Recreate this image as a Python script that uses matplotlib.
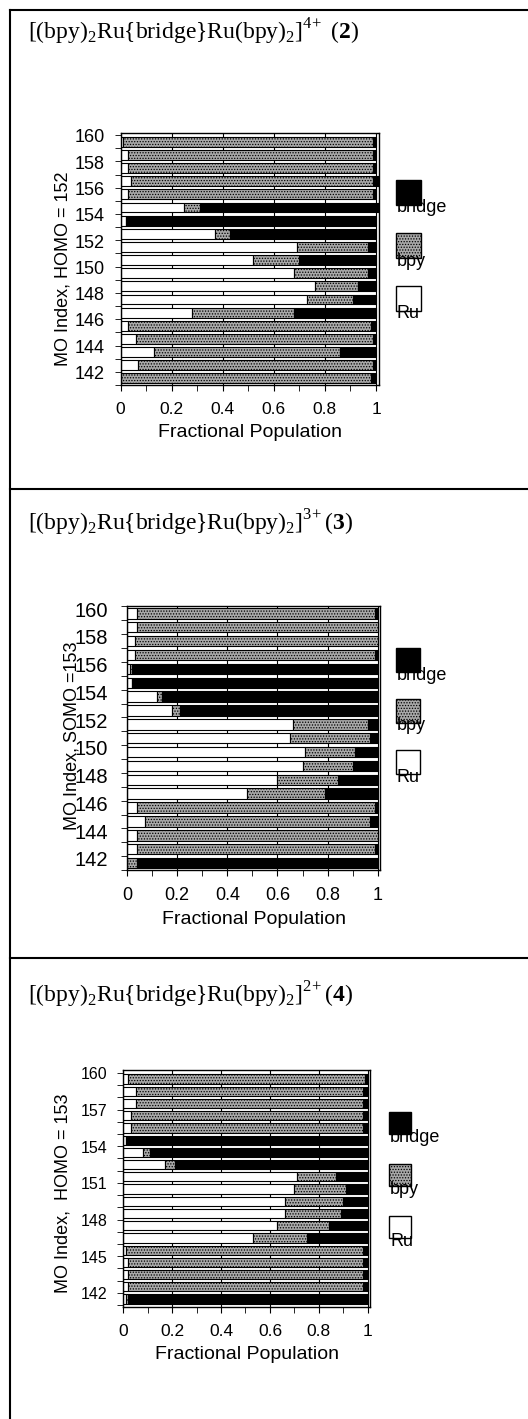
import numpy as np
import matplotlib
matplotlib.use('Agg')
import matplotlib.pyplot as plt
from matplotlib.patches import Rectangle
from matplotlib.lines import Line2D

plt.rcParams['font.family'] = ['Liberation Sans', 'DejaVu Sans']
plt.rcParams['mathtext.fontset'] = 'custom'
plt.rcParams['mathtext.rm'] = 'Liberation Serif'
plt.rcParams['mathtext.bf'] = 'Liberation Serif:bold'
plt.rcParams['hatch.linewidth'] = 0.6

# MO index 142 .. 160
mo = np.arange(142, 161)

# compuesto 2 (4+)
ru_2 = [0.00, 0.07, 0.13, 0.06, 0.03, 0.28, 0.73, 0.76, 0.68, 0.52,
        0.69, 0.37, 0.02, 0.25, 0.03, 0.04, 0.03, 0.03, 0.01]
bpy_2 = [0.98, 0.92, 0.73, 0.93, 0.95, 0.40, 0.18, 0.17, 0.29, 0.18,
         0.28, 0.06, 0.00, 0.06, 0.96, 0.95, 0.96, 0.96, 0.98]
bridge_2 = [0.02, 0.01, 0.14, 0.01, 0.02, 0.32, 0.09, 0.07, 0.03, 0.30,
            0.03, 0.57, 0.98, 0.70, 0.01, 0.02, 0.01, 0.01, 0.01]

# compuesto 3 (3+)
ru_3 = [0.00, 0.04, 0.04, 0.07, 0.04, 0.48, 0.60, 0.70, 0.71, 0.65,
        0.66, 0.18, 0.12, 0.02, 0.01, 0.03, 0.03, 0.04, 0.04]
bpy_3 = [0.04, 0.95, 0.96, 0.90, 0.95, 0.31, 0.24, 0.20, 0.20, 0.32,
         0.30, 0.03, 0.02, 0.00, 0.01, 0.96, 0.97, 0.96, 0.95]
bridge_3 = [0.96, 0.01, 0.00, 0.03, 0.01, 0.21, 0.16, 0.10, 0.09, 0.03,
            0.04, 0.79, 0.86, 0.98, 0.98, 0.01, 0.00, 0.00, 0.01]

# compuesto 4 (2+)
ru_4 = [0.01, 0.02, 0.02, 0.02, 0.01, 0.53, 0.63, 0.66, 0.66, 0.70,
        0.71, 0.17, 0.08, 0.01, 0.03, 0.03, 0.05, 0.05, 0.02]
bpy_4 = [0.01, 0.96, 0.96, 0.96, 0.97, 0.22, 0.21, 0.23, 0.24, 0.21,
         0.16, 0.04, 0.03, 0.00, 0.95, 0.95, 0.93, 0.93, 0.97]
bridge_4 = [0.98, 0.02, 0.02, 0.02, 0.02, 0.25, 0.16, 0.11, 0.10, 0.09,
            0.13, 0.79, 0.89, 0.99, 0.02, 0.02, 0.02, 0.02, 0.01]

titulos = [r'[(bpy)$_2$Ru{bridge}Ru(bpy)$_2$]$^{4\!+}$ ($\mathbf{2}$)',
           r'[(bpy)$_2$Ru{bridge}Ru(bpy)$_2$]$^{3\!+}$($\mathbf{3}$)',
           r'[(bpy)$_2$Ru{bridge}Ru(bpy)$_2$]$^{2\!+}$($\mathbf{4}$)']
ylabels = ['MO Index, HOMO = 152', 'MO Index, SOMO =153', 'MO Index,  HOMO = 153']
leyenda = ['bridge', 'bpy', 'Ru']

W, H = 528, 1419
fig = plt.figure(figsize=(W / 100, H / 100), dpi=100)

gris = '#a8a8a8'


def panel(ru, bpy, bridge, caja, ylim, paso, offset, fs_y, fs_x, pad_y, leg):
    # caja = (izq, x=1, arriba, abajo) en pixeles
    x0, x1, top, bot = caja
    ancho = (x1 - x0) * 1.01
    ax = fig.add_axes([x0 / W, 1 - bot / H, ancho / W, (bot - top) / H])
    left2 = np.add(ru, bpy)
    ax.barh(mo, ru, height=0.75, color='white', edgecolor='black', lw=0.8, zorder=2)
    ax.barh(mo, bpy, left=ru, height=0.75, color=gris, edgecolor='black',
            hatch='......', lw=0.8, zorder=2)
    ax.barh(mo, bridge, left=left2, height=0.75, color='black', edgecolor='black',
            lw=0.8, zorder=2)
    ax.set_xlim(0, 1.01)
    ax.set_ylim(*ylim)
    ax.set_xticks(np.arange(0, 1.01, 0.2))
    ax.set_xticklabels(['0', '0.2', '0.4', '0.6', '0.8', '1'], fontsize=fs_x)
    ax.set_xticks(np.arange(0, 1.01, 0.1), minor=True)
    ax.xaxis.grid(True, color='black', lw=0.8, zorder=0)
    ax.set_axisbelow(True)
    etiquetas = mo[::paso]
    ax.set_yticks(etiquetas + offset)
    ax.set_yticklabels([str(e) for e in etiquetas], fontsize=fs_y)
    ax.set_yticks(np.arange(141.5, 161, 1.0), minor=True)
    ax.tick_params(axis='y', which='major', length=0, pad=pad_y)
    ax.tick_params(axis='y', which='minor', length=4, direction='out')
    ax.tick_params(axis='x', which='both', length=4, direction='out', pad=8)
    ax.set_xlabel('Fractional Population', fontsize=14, labelpad=5)
    for s in ax.spines.values():
        s.set_linewidth(1.0)
    # leyenda a mano
    lx, ly, lado, sep = leg
    estilos = [dict(facecolor='black'), dict(facecolor=gris, hatch='......'),
               dict(facecolor='white')]
    for i, (nombre, est) in enumerate(zip(leyenda, estilos)):
        y = ly + i * sep
        fig.add_artist(Rectangle((lx / W, 1 - (y + lado) / H), lado / W, lado / H,
                                 transform=fig.transFigure, edgecolor='black',
                                 lw=1.0, **est))
        fig.text((lx + 1) / W, 1 - (y + lado + 3) / H, nombre, fontsize=13,
                 va='center', ha='left')
    return ax


ax1 = panel(ru_2, bpy_2, bridge_2, (120.6, 376, 133.3, 385), (141.52, 160.64), 2, 0.45,
            13, 12.5, 11.5, (396, 180, 25, 53))
ax1.set_ylabel(ylabels[0], fontsize=13, va='center')
ax1.yaxis.set_label_coords((63 - 120.6) / 258, 0.46)

ax2 = panel(ru_3, bpy_3, bridge_3, (127, 377.8, 606, 870), (141.57, 160.53), 2, 0.3,
            14.5, 13, 13.5, (396, 648, 24, 51))
ax2.set_ylabel(ylabels[1], fontsize=13, va='center')
ax2.yaxis.set_label_coords((72 - 127) / 253, 0.51)

ax3 = panel(ru_4, bpy_4, bridge_4, (123.3, 367.7, 1070, 1307), (141.35, 160.74), 3, 0.46,
            11.5, 12.5, 11.5, (389, 1112, 22, 52))
ax3.set_ylabel(ylabels[2], fontsize=13, va='center')
ax3.yaxis.set_label_coords((63 - 123.3) / 247, 0.48)

# titulos
for t, yc in zip(titulos, [32, 523, 995]):
    fig.text(28 / W, 1 - yc / H, t, family='Liberation Serif', fontsize=17, va='center')

# marcos
fig.add_artist(Line2D([10 / W, 10 / W], [1 - 10 / H, 0], color='black', lw=1.5,
                      transform=fig.transFigure))
for yl in [10, 489, 958]:
    fig.add_artist(Line2D([10 / W, 1], [1 - yl / H, 1 - yl / H], color='black', lw=1.5,
                          transform=fig.transFigure))

fig.savefig('out.png', dpi=100)
